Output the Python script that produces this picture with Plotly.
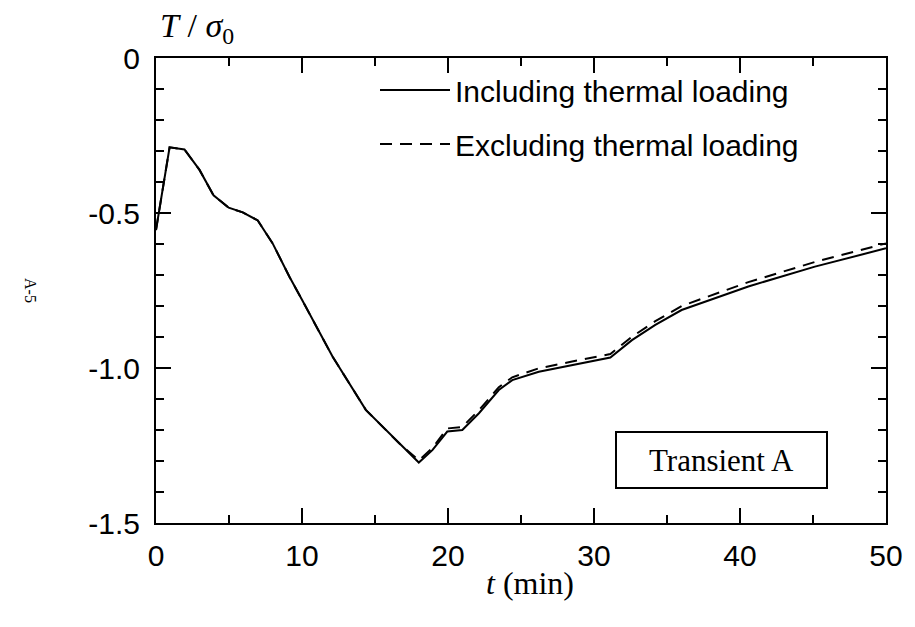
import plotly.graph_objects as go

# Including thermal loading (solid)
t_inc = [0, 0.93, 1.95, 2.98, 3.94, 4.98, 5.94, 6.97, 7.99, 9.13, 10.0, 12.09, 14.37, 16.65, 18.0,
         18.93, 19.95, 20.98, 22.12, 23.48, 24.4, 26.22, 28.5, 30.3, 31.12, 32.6, 34.2, 36.0,
         40.57, 45.13, 50.0]
v_inc = [-0.555, -0.288, -0.295, -0.361, -0.443, -0.483, -0.498, -0.524, -0.598, -0.705, -0.78,
         -0.963, -1.135, -1.243, -1.305, -1.265, -1.205, -1.2, -1.146, -1.071, -1.039, -1.012,
         -0.99, -0.974, -0.966, -0.91, -0.861, -0.813, -0.737, -0.673, -0.614]

# Excluding thermal loading (dashed)
t_exc = [0, 0.93, 1.95, 2.98, 3.94, 4.98, 5.94, 6.97, 7.99, 9.13, 10.0, 12.09, 14.37, 16.65, 18.0,
         18.93, 19.95, 20.98, 22.12, 23.48, 24.4, 26.22, 28.5, 30.3, 31.12, 32.6, 34.2, 36.0,
         40.57, 45.13, 50.0]
v_exc = [-0.555, -0.288, -0.295, -0.361, -0.443, -0.483, -0.498, -0.524, -0.598, -0.705, -0.78,
         -0.963, -1.135, -1.243, -1.298, -1.258, -1.195, -1.19, -1.136, -1.062, -1.030, -1.001,
         -0.979, -0.963, -0.955, -0.899, -0.849, -0.800, -0.723, -0.658, -0.598]

x_ticks = [0, 10, 20, 30, 40, 50]
y_ticks = [0, -0.5, -1.0, -1.5]
y_tick_labels = ["0", "-0.5", "-1.0", "-1.5"]

fig = go.Figure()
fig.add_trace(go.Scatter(x=t_inc, y=v_inc, mode="lines", name="Including thermal loading",
                         legendgroup="a", line=dict(color="black", width=2)))
fig.add_trace(go.Scatter(x=t_exc, y=v_exc, mode="lines", name="Excluding thermal loading",
                         legendgroup="b", line=dict(color="black", width=2, dash="12px,8px")))

sans = "Liberation Sans, Arial, sans-serif"
axis_font = dict(family=sans, size=30, color="black")

fig.update_xaxes(range=[0, 50], tickvals=x_ticks, ticktext=[str(v) for v in x_ticks],
                 ticks="inside", ticklen=15, tickwidth=2, tickcolor="black",
                 showline=True, linecolor="black", linewidth=2, mirror="allticks",
                 showgrid=False, zeroline=False, tickfont=axis_font,
                 minor=dict(dtick=5, tick0=0, ticks="inside", ticklen=8, tickwidth=2,
                            tickcolor="black", showgrid=False),
                 ticklabelstandoff=5)
fig.update_yaxes(range=[-1.5, 0], tickvals=y_ticks, ticktext=y_tick_labels,
                 ticks="inside", ticklen=15, tickwidth=2, tickcolor="black",
                 showline=True, linecolor="black", linewidth=2, mirror="allticks",
                 showgrid=False, zeroline=False, tickfont=axis_font,
                 minor=dict(dtick=0.1, tick0=0, ticks="inside", ticklen=8, tickwidth=2,
                            tickcolor="black", showgrid=False),
                 ticklabelstandoff=8)

serif = "Liberation Serif, Times New Roman, serif"

fig.update_layout(
    width=915, height=627,
    margin=dict(l=156, r=27, t=58, b=104),
    paper_bgcolor="white", plot_bgcolor="white",
    showlegend=True,
    legend=dict(x=0.30, y=0.987, xanchor="left", yanchor="top",
                font=dict(family=sans, size=30, color="black"),
                bgcolor="rgba(0,0,0,0)", itemwidth=70, traceorder="grouped",
                tracegroupgap=12),
    annotations=[
        dict(text="<i>T</i> / <i>σ</i><sub>0</sub>", xref="paper", yref="paper",
             x=0.0, y=1.0, xanchor="left", yanchor="bottom", xshift=2, yshift=7,
             showarrow=False, font=dict(family=serif, size=34, color="black")),
        dict(text="<i>t</i> (min)", xref="paper", yref="paper",
             x=0.512, y=0, xanchor="center", yanchor="top", yshift=-40,
             showarrow=False, font=dict(family=serif, size=32, color="black")),
        dict(text="Transient A", xref="paper", yref="paper",
             x=0.775, y=0.1355, xanchor="center", yanchor="middle",
             showarrow=False, font=dict(family=serif, size=31, color="black"),
             bordercolor="black", borderwidth=2, width=207, height=52, bgcolor="white"),
        dict(text="A-5", xref="paper", yref="paper",
             x=-0.172, y=0.50, xanchor="center", yanchor="middle", textangle=90,
             showarrow=False, font=dict(family=serif, size=16, color="black")),
    ],
)

fig.write_html("out.html")
